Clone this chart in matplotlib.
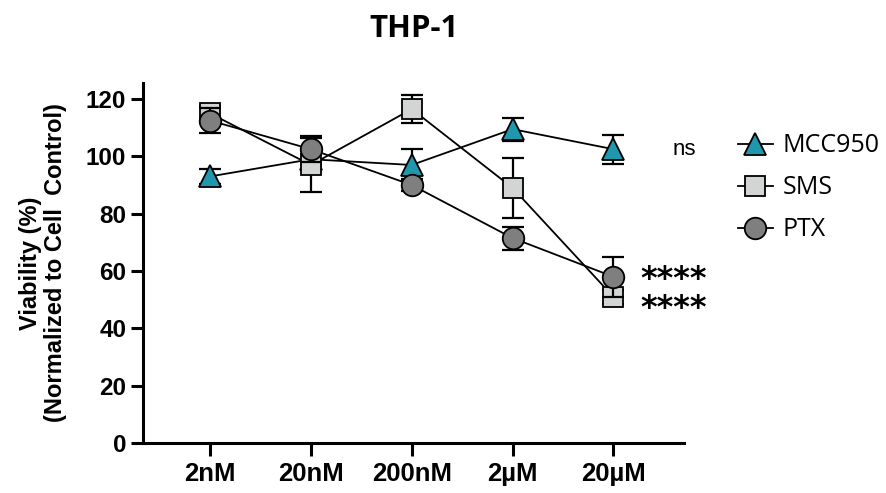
import matplotlib
matplotlib.use("Agg")
import matplotlib.pyplot as plt
from matplotlib.lines import Line2D

categories = ["2nM", "20nM", "200nM", "2µM", "20µM"]
mcc950 = [93, 99, 97, 109.5, 102.5]
mcc950_err = [2.5, 2, 5.5, 4, 5]
sms = [115, 97, 116.5, 89, 51]
sms_err = [2.5, 9.5, 4.8, 10.5, 2.5]
ptx = [112.5, 102.5, 90, 71.5, 58]
ptx_err = [4.5, 4.5, 2, 4, 7]
yticks = [0, 20, 40, 60, 80, 100, 120]

fig = plt.figure(figsize=(8.86, 4.93), dpi=100)
ax = fig.add_axes([143/886, 1-443/493, (684-143)/886, (443-83)/493])

x = list(range(len(categories)))
series = [
    ("MCC950", mcc950, mcc950_err, "^", "#1f97ad", 16),
    ("SMS", sms, sms_err, "s", "#d3d5d5", 14.5),
    ("PTX", ptx, ptx_err, "o", "#7f7f7f", 15.5),
]
handles = []
for i, (name, vals, err, mk, col, ms) in enumerate(series):
    ax.errorbar(x, vals, yerr=err, fmt="none", ecolor="black", elinewidth=1.6,
                capsize=8, capthick=1.6, zorder=2 + i * 3)
    ax.plot(x, vals, color="black", lw=1.3, zorder=3 + i * 3)
    ax.plot(x, vals, ls="none", marker=mk, ms=ms, mfc=col, mec="black", mew=1.3,
            zorder=4 + i * 3)
    handles.append(Line2D([], [], color="black", lw=1.3, marker=mk, ms=ms,
                          mfc=col, mec="black", mew=1.3, label=name))

ax.set_xlim(-0.665, 4.70)
ax.set_ylim(0, 125.6)
ax.set_yticks(yticks)
ax.set_xticks(x)
ax.set_xticklabels(categories)
for s in ["top", "right"]:
    ax.spines[s].set_visible(False)
for s in ["left", "bottom"]:
    ax.spines[s].set_linewidth(2.2)
ax.tick_params(axis="both", length=9, width=2.2, direction="out", pad=3)
for lab in ax.get_yticklabels():
    lab.set_fontfamily("Liberation Sans")
    lab.set_fontweight("bold")
    lab.set_fontsize(17.5)
for lab in ax.get_xticklabels():
    lab.set_fontfamily("Liberation Sans")
    lab.set_fontweight("bold")
    lab.set_fontsize(18.5)
ax.tick_params(axis="x", pad=5)

ax.set_ylabel("Viability (%)\n(Normalized to Cell  Control)", fontfamily="Liberation Sans",
              fontweight="bold", fontsize=17, labelpad=14, linespacing=1.1)

ax.set_title("THP-1", fontfamily="Open Sans", fontweight="bold", fontsize=22.5, pad=33)

ax.text(4.59, mcc950[4], "ns", fontfamily="Liberation Sans", fontsize=16,
        va="center", ha="left")
ax.text(4.27, (ptx[4] + sms[4]) / 2 - 2.5, "****\n****", fontfamily="DejaVu Sans",
        fontsize=23, fontweight="bold", va="center", ha="left", linespacing=0.95)

leg = fig.legend(handles=handles, loc="upper left", bbox_to_anchor=(715/886, 1-111/493),
                 frameon=False, prop={"family": "Open Sans", "size": 18},
                 handlelength=1.4, handletextpad=0.4, labelspacing=0.68)

fig.savefig("out.png", dpi=100)
